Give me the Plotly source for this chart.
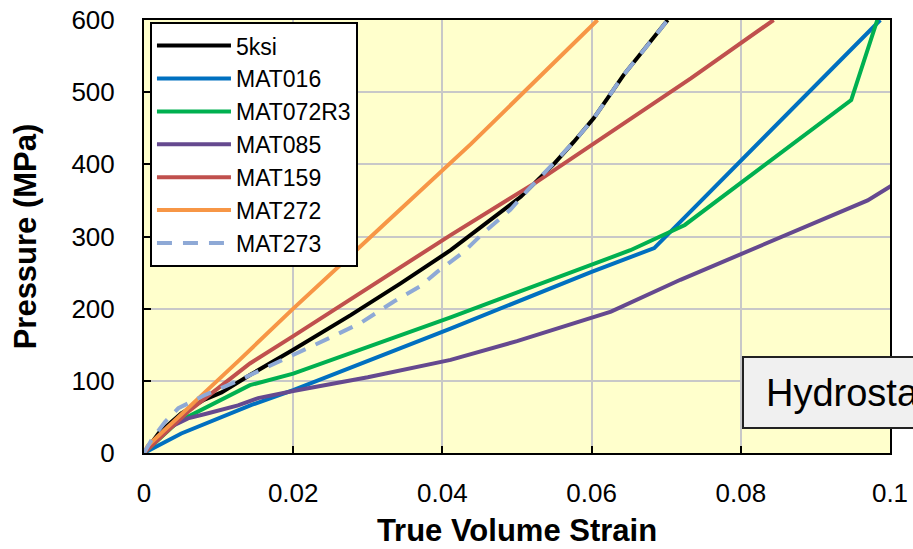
import plotly.graph_objects as go

# ---- data ----
x_5ksi = [0, 0.002, 0.005, 0.0081, 0.0104, 0.0142, 0.02, 0.0277, 0.0344, 0.0411, 0.0505, 0.0549, 0.0576, 0.0603, 0.0643, 0.0679, 0.0702]
y_5ksi = [0, 28, 55, 74, 84, 108, 143, 191, 235, 281, 355, 400, 431, 464, 524, 570, 600]

x_mat016 = [0, 0.005, 0.0145, 0.02, 0.041, 0.06, 0.0684, 0.0987]
y_mat016 = [0, 27, 67, 87, 172, 251, 284, 600]

x_mat072 = [0, 0.0045, 0.0142, 0.02, 0.0411, 0.0652, 0.0725, 0.0948, 0.0983]
y_mat072 = [0, 43, 94, 110, 188, 281, 316, 489, 600]

x_mat085 = [0, 0.0019, 0.0041, 0.0059, 0.0086, 0.0126, 0.0153, 0.02, 0.03, 0.0411, 0.05, 0.0603, 0.0626, 0.0719, 0.0804, 0.097, 0.1003]
y_mat085 = [0, 23, 39, 48, 55, 66, 76, 86, 105, 129, 155, 189, 196, 240, 277, 350, 371]

x_mat159 = [0, 0.006, 0.0142, 0.02, 0.0411, 0.0527, 0.0733, 0.0844]
y_mat159 = [0, 58, 124, 162, 302, 376, 519, 600]

x_mat272 = [0, 0.0005, 0.0126, 0.02, 0.0317, 0.0438, 0.0608]
y_mat272 = [0, 10, 127, 200, 312, 428, 600]

x_mat273 = [0, 0.001, 0.0028, 0.0046, 0.0081, 0.0126, 0.0171, 0.0214, 0.0252, 0.029, 0.0335, 0.037, 0.0393, 0.0429, 0.0455, 0.0491, 0.0514, 0.0545, 0.0576, 0.0603, 0.0643, 0.0679, 0.0702]
y_mat273 = [0, 18, 43, 62, 80, 100, 122, 142, 161, 180, 210, 231, 251, 279, 305, 337, 364, 397, 431, 464, 524, 570, 600]

x_ticks = [0, 0.02, 0.04, 0.06, 0.08, 0.1]
x_ticklabels = ["0", "0.02", "0.04", "0.06", "0.08", "0.1"]
y_ticks = [0, 100, 200, 300, 400, 500, 600]

FONT = "Arial, Liberation Sans, sans-serif"

series = [
    ("5ksi", x_5ksi, y_5ksi, "#000000", "solid"),
    ("MAT016", x_mat016, y_mat016, "#0070C0", "solid"),
    ("MAT072R3", x_mat072, y_mat072, "#00B050", "solid"),
    ("MAT085", x_mat085, y_mat085, "#65498F", "solid"),
    ("MAT159", x_mat159, y_mat159, "#C0504D", "solid"),
    ("MAT272", x_mat272, y_mat272, "#F79646", "solid"),
    ("MAT273", x_mat273, y_mat273, "#8EA9D6", "15px,11px"),
]

fig = go.Figure()
for name, xs, ys, col, dash in series:
    fig.add_trace(go.Scatter(x=xs, y=ys, mode="lines", name=name,
                             line=dict(color=col, width=4, dash=dash)))

fig.update_layout(
    width=913, height=549,
    margin=dict(l=144, r=23, t=20, b=96, autoexpand=False),
    paper_bgcolor="white",
    plot_bgcolor="#FFFFCC",
    font=dict(family=FONT, color="black"),
    showlegend=True,
    legend=dict(x=0.008, y=0.995, xanchor="left", yanchor="top",
                bgcolor="white", bordercolor="black", borderwidth=2,
                font=dict(size=23, family=FONT), tracegroupgap=0,
                itemwidth=74),
    xaxis=dict(range=[0, 0.1], tickvals=x_ticks, ticktext=x_ticklabels,
               showgrid=True, gridcolor="#C8C8C8", gridwidth=1.5,
               ticks="inside", ticklen=7, tickwidth=2, tickcolor="black",
               showline=True, linecolor="black", linewidth=2, mirror=True,
               zeroline=False, tickfont=dict(size=26), ticklabelstandoff=16,
               title=dict(text="<b>True Volume Strain</b>", font=dict(size=31), standoff=12)),
    yaxis=dict(range=[0, 600], tickvals=y_ticks,
               showgrid=True, gridcolor="#C8C8C8", gridwidth=1.5,
               ticks="inside", ticklen=7, tickwidth=2, tickcolor="black",
               showline=True, linecolor="black", linewidth=2, mirror=True,
               zeroline=False, tickfont=dict(size=26), ticklabelstandoff=22,
               title=dict(text="<b>Pressure (MPa)</b>", font=dict(size=31), standoff=26)),
)

# annotation box (partially cut at the right edge in the reference)
px_w = 913 - 144 - 23
px_h = 549 - 20 - 96
def fx(px):
    return (px - 144) / px_w
def fy(py):
    return (549 - 96 - py) / px_h

fig.add_shape(type="rect", xref="paper", yref="paper",
              x0=fx(743), x1=fx(1000), y0=fy(428), y1=fy(357),
              fillcolor="#F0F0F0", line=dict(color="#222222", width=2), layer="above")
fig.add_annotation(xref="paper", yref="paper", x=fx(764), y=fy(393),
                   xanchor="left", yanchor="middle", showarrow=False,
                   text="Hydrostatic", font=dict(size=38, family=FONT, color="black"))

fig.write_html("out.html")
